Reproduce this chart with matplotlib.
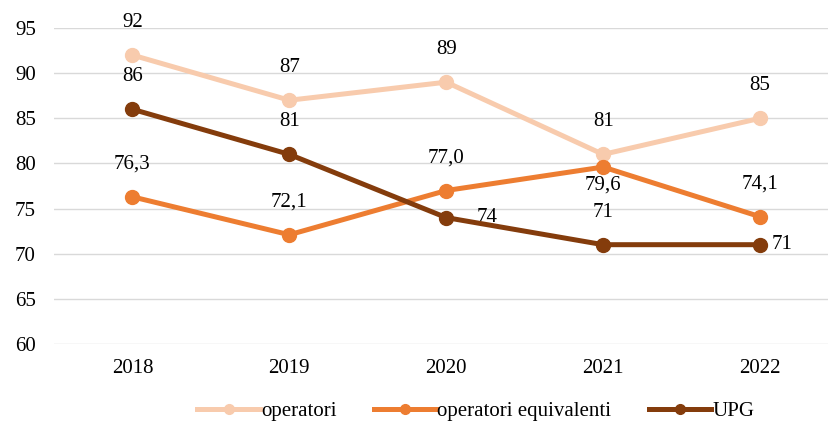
import matplotlib.pyplot as plt

plt.rcParams['font.family'] = ['Liberation Serif', 'DejaVu Serif']

#%% Data
years = ['2018', '2019', '2020', '2021', '2022']
operatori = [92, 87, 89, 81, 85]
equivalenti = [76.3, 72.1, 77.0, 79.6, 74.1]
upg = [86, 81, 74, 71, 71]

lab_op = ['92', '87', '89', '81', '85']
lab_eq = ['76,3', '72,1', '77,0', '79,6', '74,1']
lab_upg = ['86', '81', '74', '71', '71']

#%% Plot
fig = plt.figure(figsize=(8.29, 4.23), dpi=100)
ax = fig.add_axes([54/829, 1-344/423, 775/829, 316/423])

x = list(range(len(years)))
c_op, c_eq, c_upg = '#F8CBAD', '#ED7D31', '#843C0C'
fs = 15

ax.plot(x, operatori, color=c_op, lw=3.6, marker='o', ms=10, label='operatori', zorder=3)
ax.plot(x, equivalenti, color=c_eq, lw=3.6, marker='o', ms=10, label='operatori equivalenti', zorder=4)
ax.plot(x, upg, color=c_upg, lw=3.6, marker='o', ms=10, label='UPG', zorder=5)

# data labels (offsets in points)
up = (0, 23.5)
for i in x:
    ax.annotate(lab_op[i], (i, operatori[i]), xytext=up, textcoords='offset points',
                ha='center', va='center', fontsize=fs)
eq_off = [up, up, up, (0, -13), up]
for i in x:
    ax.annotate(lab_eq[i], (i, equivalenti[i]), xytext=eq_off[i], textcoords='offset points',
                ha='center', va='center', fontsize=fs)
upg_off = [(up, 'center'), (up, 'center'), ((22, 0), 'left'), (up, 'center'), ((8, 0), 'left')]
for i in x:
    off, ha = upg_off[i]
    ax.annotate(lab_upg[i], (i, upg[i]), xytext=off, textcoords='offset points',
                ha=ha, va='center', fontsize=fs)

ax.set_xlim(-0.5, (829-132)/157)
ax.set_ylim(60, 95)
ax.set_yticks(range(60, 96, 5))
ax.set_xticks(x)
ax.set_xticklabels(years)
ax.tick_params(length=0, labelsize=fs, colors='#000000')
ax.tick_params(axis='x', pad=11)
ax.tick_params(axis='y', pad=13)
ax.grid(axis='y', color='#D9D9D9', lw=1)
ax.set_axisbelow(True)
for s in ax.spines.values():
    s.set_visible(False)

fig.legend(loc='center', bbox_to_anchor=(0.574, 0.028), ncol=3, frameon=False,
           fontsize=fs, handlelength=3.0, handletextpad=0.05, columnspacing=1.8,
           markerscale=0.7)

fig.savefig('out.png', dpi=100)
